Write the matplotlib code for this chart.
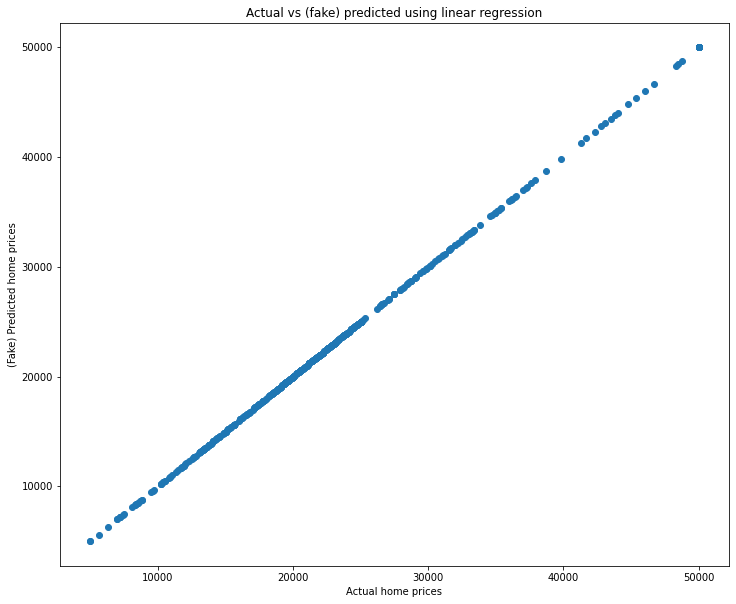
import matplotlib
matplotlib.use("Agg")
import matplotlib.pyplot as plt
import numpy as np


# median home values in $1000s (Boston-style data)
medv_thousands = [
    24.0, 21.6, 34.7, 33.4, 36.2, 28.7, 22.9, 27.1, 16.5, 18.9, 15.0, 18.9, 21.7, 20.4, 18.2, 19.9,
    23.1, 17.5, 20.2, 18.2, 13.6, 19.6, 15.2, 14.5, 15.6, 13.9, 16.6, 14.8, 18.4, 21.0, 12.7, 14.5,
    13.2, 13.1, 13.5, 18.9, 20.0, 21.0, 24.7, 30.8, 34.9, 26.6, 25.3, 24.7, 21.2, 19.3, 20.0, 16.6,
    14.4, 19.4, 19.7, 20.5, 25.0, 23.4, 18.9, 35.4, 24.7, 31.6, 23.3, 19.6, 18.7, 16.0, 22.2, 25.0,
    33.0, 23.5, 19.4, 22.0, 17.4, 20.9, 24.2, 21.7, 22.8, 23.4, 24.1, 21.4, 20.0, 20.8, 21.2, 20.3,
    28.0, 23.9, 24.8, 22.9, 23.9, 26.6, 22.5, 22.2, 23.6, 28.7, 22.6, 22.0, 22.9, 25.0, 20.6, 28.4,
    21.4, 38.7, 43.8, 33.2, 27.5, 26.5, 18.6, 19.3, 20.1, 19.5, 19.5, 20.4, 19.8, 19.4, 21.7, 22.8,
    18.8, 18.7, 18.5, 18.3, 21.2, 19.2, 20.4, 19.3, 22.0, 20.3, 20.5, 17.3, 18.8, 21.4, 15.7, 16.2,
    18.0, 14.3, 19.2, 19.6, 23.0, 18.4, 15.6, 18.1, 17.4, 17.1, 13.3, 17.8, 14.0, 14.4, 13.4, 15.6,
    11.8, 13.8, 15.6, 14.6, 17.8, 15.4, 21.5, 19.6, 15.3, 19.4, 17.0, 15.6, 13.1, 41.3, 24.3, 23.3,
    27.0, 50.0, 50.0, 50.0, 22.7, 25.0, 50.0, 23.8, 23.8, 22.3, 17.4, 19.1, 23.1, 23.6, 22.6, 29.4,
    23.2, 24.6, 29.9, 37.2, 39.8, 36.2, 37.9, 32.5, 26.4, 29.6, 50.0, 32.0, 29.8, 34.9, 37.0, 30.5,
    36.4, 31.1, 29.1, 50.0, 33.3, 30.3, 34.6, 34.9, 32.9, 24.1, 42.3, 48.5, 50.0, 22.6, 24.4, 22.5,
    24.4, 20.0, 21.7, 19.3, 22.4, 28.1, 23.7, 25.0, 23.3, 28.7, 21.5, 23.0, 26.7, 21.7, 27.5, 30.1,
    44.8, 50.0, 37.6, 31.6, 46.7, 31.5, 24.3, 31.7, 41.7, 48.3, 29.0, 24.0, 25.1, 31.5, 23.7, 23.3,
    22.0, 20.1, 22.2, 23.7, 17.6, 18.5, 24.3, 20.5, 24.5, 26.2, 24.4, 24.8, 29.6, 42.8, 21.9, 20.9,
    44.0, 50.0, 36.0, 30.1, 33.8, 43.1, 48.8, 31.0, 36.5, 22.8, 30.7, 50.0, 43.5, 20.7, 21.1, 25.2,
    24.4, 35.2, 32.4, 32.0, 33.2, 33.1, 29.1, 35.1, 45.4, 35.4, 46.0, 50.0, 32.2, 22.0, 20.1, 23.2,
    22.3, 24.8, 28.5, 37.3, 27.9, 23.9, 21.7, 28.6, 27.1, 20.3, 22.5, 29.0, 24.8, 22.0, 26.4, 33.1,
    36.1, 28.4, 33.4, 28.2, 22.8, 20.3, 16.1, 22.1, 19.4, 21.6, 23.8, 16.2, 17.8, 19.8, 23.1, 21.0,
    23.8, 23.1, 20.4, 18.5, 25.0, 24.6, 23.0, 22.2, 19.3, 22.6, 19.8, 17.1, 19.4, 22.2, 20.7, 21.1,
    19.5, 18.5, 20.6, 19.0, 18.7, 32.7, 16.5, 23.9, 31.2, 17.5, 17.2, 23.1, 24.5, 26.6, 22.9, 24.1,
    18.6, 30.1, 18.2, 20.6, 17.8, 21.7, 22.7, 22.6, 25.0, 19.9, 20.8, 16.8, 21.9, 27.5, 21.9, 23.1,
    50.0, 50.0, 50.0, 50.0, 50.0, 13.8, 13.8, 15.0, 13.9, 13.3, 13.1, 10.2, 10.4, 10.9, 11.3, 12.3,
    8.8, 7.2, 10.5, 7.4, 10.2, 11.5, 15.1, 23.2, 9.7, 13.8, 12.7, 13.1, 12.5, 8.5, 5.0, 6.3,
    5.6, 7.2, 12.1, 8.3, 8.5, 5.0, 11.9, 27.9, 17.2, 27.5, 15.0, 17.2, 17.9, 16.3, 7.0, 7.2,
    7.5, 10.4, 8.8, 8.4, 16.7, 14.2, 20.8, 13.4, 11.7, 8.3, 10.2, 10.9, 11.0, 9.5, 14.5, 14.1,
    16.1, 14.3, 11.7, 13.4, 9.6, 8.7, 8.4, 12.8, 10.5, 17.1, 18.4, 15.4, 10.8, 11.8, 14.9, 12.6,
    14.1, 13.0, 13.4, 15.2, 16.1, 17.8, 14.9, 14.1, 12.7, 13.5, 14.9, 20.0, 16.4, 17.7, 19.5, 20.2,
    21.4, 19.9, 19.0, 19.1, 19.1, 20.1, 19.9, 19.6, 23.2, 29.8, 13.8, 13.3, 16.7, 12.0, 14.6, 21.4,
    23.0, 23.7, 25.0, 21.8, 20.6, 21.2, 19.1, 20.6, 15.2, 7.0, 8.1, 13.6, 20.1, 21.8, 24.5, 23.1,
    19.7, 18.3, 21.2, 17.5, 16.8, 22.4, 20.6, 23.9, 22.0, 11.9,
]

# prices in dollars; the "fake" prediction is the actual price itself
actual_prices = np.array(medv_thousands) * 1000
predicted_prices = actual_prices.copy()


fig = plt.figure(figsize=(736 / 72, 604 / 72), dpi=72)
ax = fig.add_axes([60 / 736, 1 - 566 / 604, 669 / 736, 543.3 / 604])

ax.scatter(actual_prices, predicted_prices)
ax.set_title("Actual vs (fake) predicted using linear regression")
ax.set_xlabel("Actual home prices")
ax.set_ylabel("(Fake) Predicted home prices")

fig.savefig("out.png", dpi=72)
